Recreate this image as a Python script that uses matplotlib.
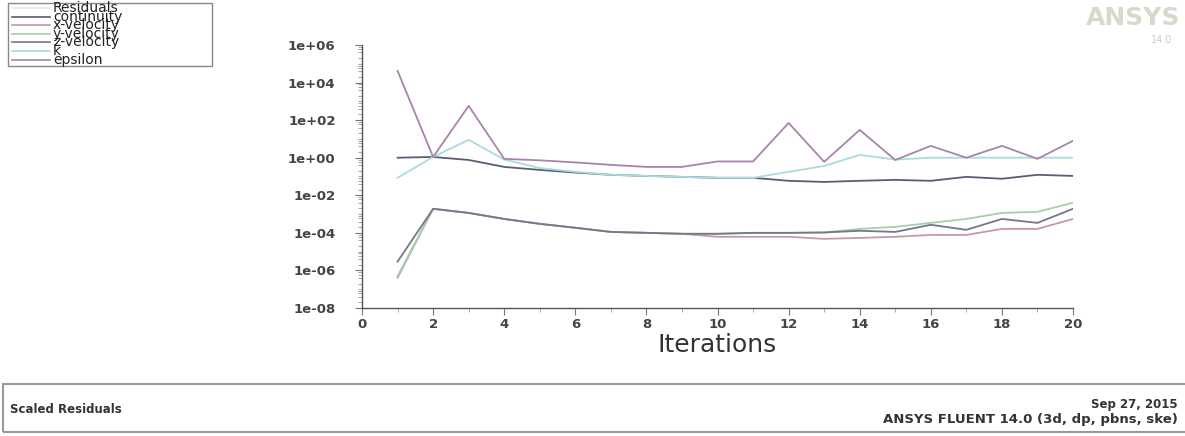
import numpy as np
import matplotlib
matplotlib.use("Agg")
import matplotlib.pyplot as plt
from matplotlib.ticker import FixedLocator, FuncFormatter, MultipleLocator


# residual history (log10 values)
iterations = list(range(1, 21))
continuity = [0.0, 0.04, -0.12, -0.49, -0.65, -0.79, -0.91, -0.97, -1.02, -1.07,
              -1.07, -1.23, -1.29, -1.23, -1.18, -1.23, -1.02, -1.12, -0.91, -0.97]
x_velocity = [-6.39, -2.72, -2.94, -3.26, -3.52, -3.73, -3.95, -4.0, -4.05, -4.21,
              -4.21, -4.21, -4.32, -4.27, -4.21, -4.11, -4.11, -3.79, -3.79, -3.26]
y_velocity = [-6.30, -2.72, -2.94, -3.26, -3.52, -3.73, -3.95, -4.0, -4.05, -4.05,
              -4.0, -4.0, -3.98, -3.79, -3.68, -3.47, -3.26, -2.94, -2.88, -2.40]
z_velocity = [-5.53, -2.72, -2.94, -3.26, -3.52, -3.73, -3.95, -4.0, -4.05, -4.05,
              -4.0, -4.0, -3.98, -3.89, -3.95, -3.57, -3.84, -3.26, -3.47, -2.72]
k_res = [-1.07, 0.04, 0.95, -0.1, -0.55, -0.75, -0.91, -0.97, -1.02, -1.07,
         -1.07, -0.75, -0.44, 0.15, -0.1, 0.0, 0.0, 0.0, 0.0, 0.0]
epsilon = [4.62, 0.04, 2.76, -0.06, -0.14, -0.25, -0.38, -0.49, -0.49, -0.2,
           -0.2, 1.85, -0.22, 1.48, -0.12, 0.63, 0.0, 0.63, -0.06, 0.9]

series_names = ["continuity", "x-velocity", "y-velocity", "z-velocity", "k", "epsilon"]
series_colors = ["#5c5c72", "#c898a8", "#a6cfae", "#77758c", "#a9dcdc", "#a884ac"]

fig = plt.figure(figsize=(11.85, 4.36), dpi=100)
ax = fig.add_axes([0.3055, 0.2936, 0.6000, 0.6032])

all_series = [continuity, x_velocity, y_velocity, z_velocity, k_res, epsilon]
for vals, name, col in zip(all_series, series_names, series_colors):
    ax.plot(iterations, np.power(10.0, vals), color=col, lw=1.3, label=name)

ax.set_yscale("log")
ax.set_ylim(1e-8, 1e6)
ax.set_xlim(0, 20)
ax.spines["top"].set_visible(False)
ax.spines["right"].set_visible(False)
for s in ["left", "bottom"]:
    ax.spines[s].set_color("#555555")
    ax.spines[s].set_linewidth(1.0)

ax.yaxis.set_major_locator(FixedLocator([10.0 ** e for e in range(-8, 7, 2)]))
ax.yaxis.set_major_formatter(FuncFormatter(lambda v, p: f"{v:.0e}"))
ax.yaxis.set_minor_locator(FixedLocator(
    [m * 10.0 ** e for e in range(-8, 6) for m in (2, 4, 6, 8)] +
    [10.0 ** e for e in range(-7, 6, 2)]))
ax.yaxis.set_minor_formatter(FuncFormatter(lambda v, p: ""))
ax.xaxis.set_major_locator(MultipleLocator(2))
ax.xaxis.set_minor_locator(MultipleLocator(1))
ax.tick_params(which="major", length=5, color="#777777", labelsize=9.5,
               labelcolor="#444444")
ax.tick_params(which="minor", length=3, color="#999999")
ax.tick_params(axis="x", pad=2)
ax.tick_params(axis="y", pad=14)
for lab in ax.get_xticklabels() + ax.get_yticklabels():
    lab.set_fontweight("bold")

ax.set_xlabel("Iterations", fontsize=18, color="#333333", labelpad=2)

# legend box in the top left corner
fig.patches.append(plt.Rectangle((8 / 1185, 1 - 66 / 436), 204 / 1185, 63 / 436,
                                 transform=fig.transFigure, fill=False,
                                 edgecolor="#888888", lw=1.0))
legend_rows = ["Residuals"] + series_names
legend_cols = ["#e8e8e8"] + series_colors
for i, (txt, col) in enumerate(zip(legend_rows, legend_cols)):
    yy = 1 - (8 + i * 8.6) / 436
    fig.add_artist(plt.Line2D([12 / 1185, 50 / 1185], [yy, yy],
                              transform=fig.transFigure, color=col, lw=1.2))
    fig.text(53 / 1185, yy, txt, fontsize=10, color="#222222",
             va="center", ha="left")

# ANSYS mark
fig.text(1180 / 1185, 1 - 18 / 436, "ANSYS", fontsize=18, color="#d8d8cc",
         fontweight="bold", ha="right", va="center")
fig.text(1172 / 1185, 1 - 40 / 436, "14.0", fontsize=7, color="#cccccc",
         ha="right", va="center")

# footer panel
fig.patches.append(plt.Rectangle((3 / 1185, 1 - 432 / 436), 1185 / 1185, 48 / 436,
                                 transform=fig.transFigure, fill=False,
                                 edgecolor="#999999", lw=1.5))
fig.text(10 / 1185, 1 - 409 / 436, "Scaled Residuals", fontsize=8.5,
         fontweight="bold", color="#333333", va="center")
fig.text(1178 / 1185, 1 - 404 / 436, "Sep 27, 2015", fontsize=8.5,
         fontweight="bold", color="#333333", ha="right", va="center")
fig.text(1178 / 1185, 1 - 419 / 436, "ANSYS FLUENT 14.0 (3d, dp, pbns, ske)",
         fontsize=9.5, fontweight="bold", color="#333333", ha="right", va="center")

fig.savefig("out.png", dpi=100)
